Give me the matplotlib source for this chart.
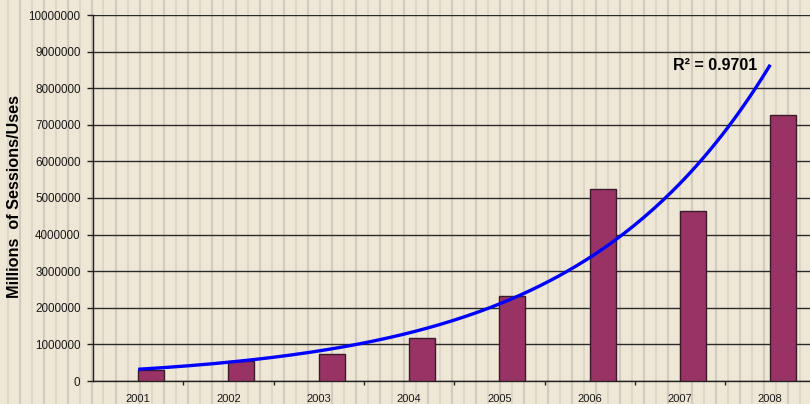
import numpy as np
import matplotlib
matplotlib.use("Agg")
import matplotlib.pyplot as plt
from matplotlib.lines import Line2D

years = ["2001", "2002", "2003", "2004", "2005", "2006", "2007", "2008"]
sessions = [300000, 550000, 740000, 1170000, 2320000, 5250000, 4640000, 7270000]
yticks = [0, 1000000, 2000000, 3000000, 4000000, 5000000, 6000000, 7000000, 8000000, 9000000, 10000000]
r2_label = "R² = 0.9701"
ylabel = "Millions  of Sessions/Uses"

plt.rcParams['font.family'] = ['Liberation Sans', 'DejaVu Sans']

W, H = 810, 404
fig = plt.figure(figsize=(W / 100, H / 100), dpi=100)
bg = "#EFE7D6"
fig.patch.set_facecolor(bg)

# striped background across the figure
for k in range(-1, 36):
    xt = 19.5 + 24 * k
    xn = 31.5 + 24 * k
    for xp, lw, c in ((xt, 1.6, "#D2CBC0"), (xn, 1.1, "#D9D2C6")):
        if 0 <= xp <= W:
            fig.add_artist(Line2D([xp / W, xp / W], [0, 1], transform=fig.transFigure,
                                  color=c, lw=lw, zorder=0))

ax = fig.add_axes([93 / W, 23 / H, 722.4 / W, 366 / H])
ax.set_facecolor("none")
ax.patch.set_alpha(0)

x = np.arange(len(years))
ax.bar(x, sessions, width=0.288, align='edge', color="#993366",
       edgecolor="#3B1A2A", linewidth=1.0, zorder=3)

# exponential trendline (least squares on log values)
b, a = np.polyfit(x + 1, np.log(sessions), 1)
xs = np.linspace(0, len(years) - 1, 200)
ax.plot(xs, np.exp(a + b * (xs + 1)), color="#0000FF", lw=2.4, zorder=4,
        solid_capstyle='butt')

ax.text(5.92, 8.5e6, r2_label, fontsize=11.5, fontweight='bold', color="black",
        ha='left', va='baseline', zorder=5)

ax.set_xlim(-0.5, len(years) - 0.5)
ax.set_ylim(0, 10000000)
ax.set_yticks(yticks)
ax.set_yticklabels([str(v) for v in yticks], fontsize=8.4, color="#1A1A1A")
ax.set_xticks(x)
ax.set_xticklabels(years, fontsize=8.0, color="#1A1A1A")
ax.set_xticks(np.arange(len(years)) - 0.5 + 1, minor=True)
ax.tick_params(axis='x', which='major', length=0, pad=9.5)
ax.tick_params(axis='x', which='minor', length=3, width=1, color="#222222", direction='out')
ax.tick_params(axis='y', length=4, width=1, color="#222222", direction='out', pad=5)

ax.yaxis.grid(True, color="#2A2A2A", lw=1.0, zorder=1)
ax.set_axisbelow(True)
for s in ("top", "right"):
    ax.spines[s].set_visible(False)
for s in ("left", "bottom"):
    ax.spines[s].set_color("#222222")
    ax.spines[s].set_linewidth(1.0)

fig.text(15 / W, 1 - 197 / H, ylabel, rotation=90, fontsize=11.7, fontweight='bold',
         ha='center', va='center')

fig.savefig("out.png", dpi=100, facecolor=bg)
